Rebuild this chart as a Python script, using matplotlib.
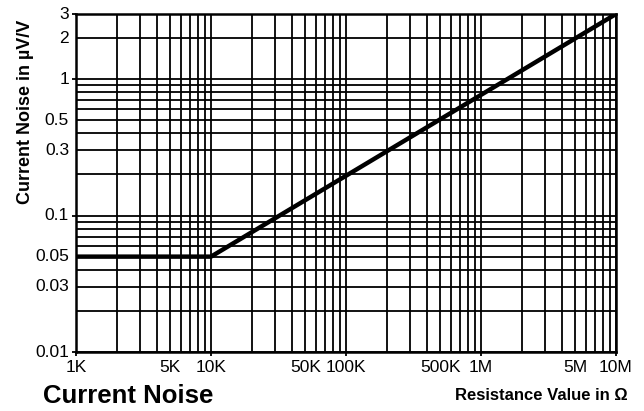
import numpy as np
import matplotlib
matplotlib.use('Agg')
import matplotlib.pyplot as plt
from matplotlib.ticker import FixedLocator, NullFormatter

plt.rcParams['font.family'] = ['Liberation Sans', 'DejaVu Sans']

# curve: flat below 10K, rising straight on log-log up to 10M
resistance = [1e3, 1e4, 1e7]
noise = [0.05, 0.05, 3.0]

x_ticks = [1e3, 5e3, 1e4, 5e4, 1e5, 5e5, 1e6, 5e6, 1e7]
x_labels = ['1K', '5K', '10K', '50K', '100K', '500K', '1M', '5M', '10M']
y_ticks = [0.01, 0.03, 0.05, 0.1, 0.3, 0.5, 1, 2, 3]
y_labels = ['0.01', '0.03', '0.05', '0.1', '0.3', '0.5', '1', '2', '3']

W, H = 644, 411
fig = plt.figure(figsize=(W / 100, H / 100), dpi=100)
ax = fig.add_axes([76 / W, 1 - 352 / H, (616 - 76) / W, (352 - 14) / H])
ax.set_xscale('log')
ax.set_yscale('log')
ax.set_xlim(1e3, 1e7)
ax.set_ylim(0.01, 3)

# full grid at every 1..9 multiple
xg = [m * 10.0 ** e for e in range(3, 7) for m in range(1, 10)] + [1e7]
yg = [m * 10.0 ** e for e in range(-2, 0) for m in range(1, 10)] + [1, 2, 3]
for v in xg:
    ax.axvline(v, color='black', lw=1.3, zorder=1)
for v in yg:
    ax.axhline(v, color='black', lw=1.3, zorder=1)

ax.plot(resistance, noise, color='black', lw=3.2, solid_capstyle='butt', zorder=3)

ax.xaxis.set_major_locator(FixedLocator([1e3, 1e4, 1e5, 1e6, 1e7]))
ax.xaxis.set_minor_locator(FixedLocator(x_ticks))
ax.xaxis.set_major_formatter(NullFormatter())
ax.xaxis.set_minor_formatter(NullFormatter())
ax.yaxis.set_major_locator(FixedLocator([0.01, 0.1, 1, 3]))
ax.yaxis.set_minor_locator(FixedLocator(y_ticks))
ax.yaxis.set_major_formatter(NullFormatter())
ax.yaxis.set_minor_formatter(NullFormatter())
ax.tick_params(which='major', length=3, width=1.3, color='black')
ax.tick_params(which='minor', length=0)

for v, s in zip(x_ticks, x_labels):
    ax.annotate(s, (v, 0.01), xytext=(0, -6), textcoords='offset points',
                ha='center', va='top', fontsize=12.5)
for v, s in zip(y_ticks, y_labels):
    ax.annotate(s, (1e3, v), xytext=(-5, 0), textcoords='offset points',
                ha='right', va='center', fontsize=12.5)

for sp in ax.spines.values():
    sp.set_linewidth(1.8)

fig.text(26 / W, 1 - 112 / H, 'Current Noise in µV/V', rotation=90,
         ha='center', va='center', fontsize=13, fontweight='bold')
fig.text(43 / W, 1 - 403 / H, 'Current Noise', ha='left', va='baseline',
         fontsize=18.5, fontweight='bold')
fig.text(628 / W, 1 - 400 / H, 'Resistance Value in Ω', ha='right', va='baseline',
         fontsize=12, fontweight='bold')

fig.savefig('out.png', dpi=100)
